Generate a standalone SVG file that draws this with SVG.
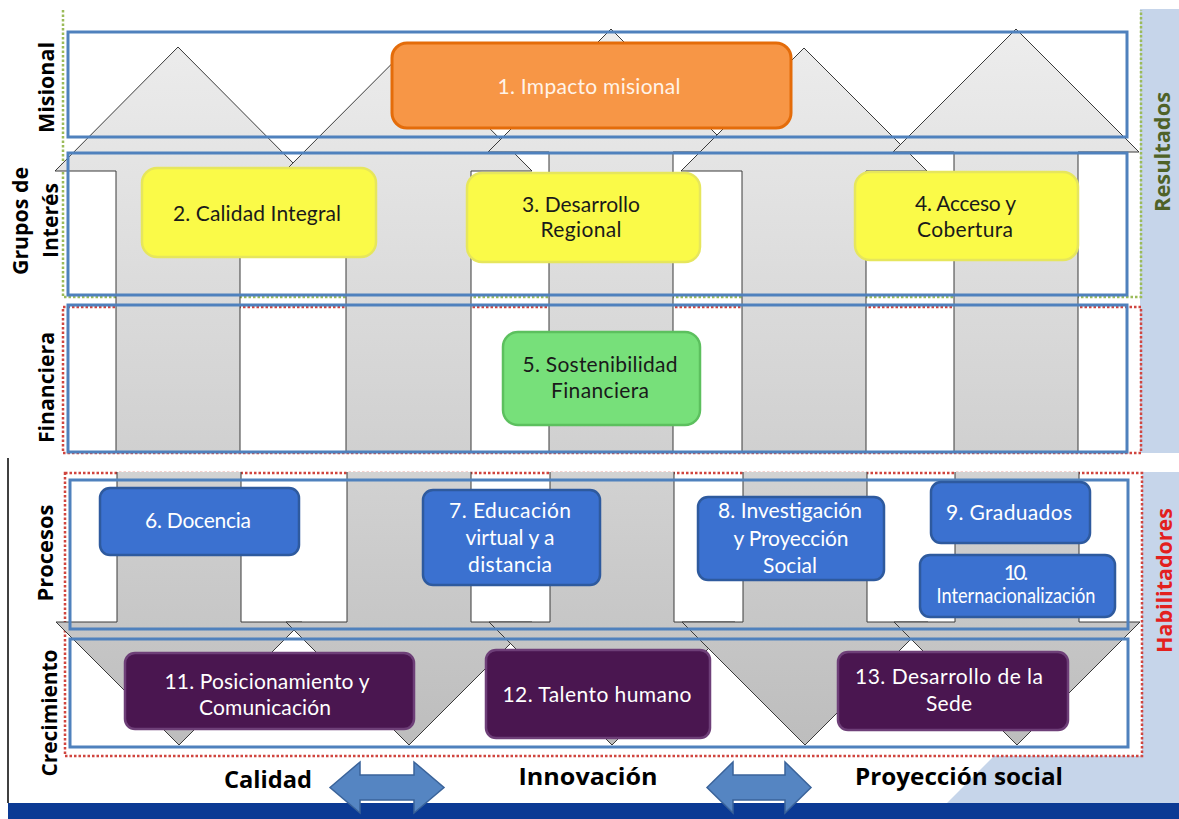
<svg xmlns="http://www.w3.org/2000/svg" width="1179" height="819" viewBox="0 0 1179 819">
<style>
.lbl{font-family:"Open Sans","DejaVu Sans",sans-serif;font-weight:700;font-size:22px;text-anchor:middle;fill:#000}
.thm{font-size:23.5px}
.bx{font-family:Lato,"Open Sans",sans-serif;font-size:21px;text-anchor:middle}
.dk{fill:#1a1a1a}
.wt{fill:#ffffff}
.sec{fill:none;stroke:#4F81BD;stroke-width:3}
.arr{stroke:#3a3a3a;stroke-width:1}
.up{fill:url(#gUp)}
.dn{fill:url(#gDn)}
.blue{fill:#3B71D0;stroke:#2E5A9E;stroke-width:2.5}
.purp{fill:#4A1650;stroke:#6E3F78;stroke-width:2.5}
.yel{fill:#FAFA48;stroke:#E6E65C;stroke-width:2.5}
.dbl{fill:#5585C2;stroke:#3A639A;stroke-width:1.5}
</style>
<defs>
<linearGradient id="gUp" gradientUnits="userSpaceOnUse" x1="0" y1="29" x2="0" y2="453">
<stop offset="0" stop-color="#EDEDED"/><stop offset="1" stop-color="#D0D0D0"/>
</linearGradient>
<linearGradient id="gDn" gradientUnits="userSpaceOnUse" x1="0" y1="472" x2="0" y2="745">
<stop offset="0" stop-color="#D2D2D2"/><stop offset="1" stop-color="#BDBDBD"/>
</linearGradient>
</defs>
<rect width="1179" height="819" fill="#ffffff"/>
<g id="band">
<rect x="1140" y="9" width="39" height="444" fill="#C6D5EA"/>
<polygon points="1142,472 1179,472 1179,803 947,803 994,756 1142,756" fill="#C6D5EA"/>
</g>
<g id="dotted" fill="none" stroke-width="2.5" stroke-dasharray="2.5 2">
<path d="M63,10 V297 H1141 V10" stroke="#9BBB59"/>
<rect x="63" y="307" width="1078" height="146" stroke="#D0453F"/>
<rect x="65" y="473" width="1077" height="283" stroke="#D0453F"/>
</g>
<g id="connectors">
<path class="arr up" d="M116,453 V171 H55 L178,47 L301,171 H240 V453"/>
<path class="arr up" d="M346,453 V171 H285 L408.5,47 L532,171 H471 V453"/>
<path class="arr up" d="M549,453 V152 H488 L611,29 L734,152 H673 V453"/>
<path class="arr up" d="M742,453 V171 H681 L804,48 L927,171 H866 V453"/>
<path class="arr up" d="M954,453 V152 H893 L1016,29 L1139,152 H1078 V453"/>
<path class="arr dn" d="M117,472 V622 H56 L179,745 L302,622 H241 V472"/>
<path class="arr dn" d="M347,472 V622 H286 L409,745 L532,622 H471 V472"/>
<path class="arr dn" d="M550,472 V622 H489 L612,745 L735,622 H674 V472"/>
<path class="arr dn" d="M743,472 V622 H682 L805,745 L928,622 H867 V472"/>
<path class="arr dn" d="M955,472 V622 H894 L1017,745 L1140,622 H1079 V472"/>
</g>
<g id="sections">
<rect class="sec" x="68" y="32" width="1059" height="105"/>
<rect class="sec" x="68" y="153" width="1059" height="142"/>
<rect class="sec" x="68" y="305" width="1059" height="147"/>
<rect class="sec" x="70" y="480" width="1058" height="149"/>
<rect class="sec" x="70" y="639" width="1058" height="108"/>
</g>
<line x1="8" y1="458" x2="8" y2="803" stroke="#000" stroke-width="1.5"/>
<g id="n1">
<rect x="392" y="43" width="399" height="85" rx="15" fill="#F79646" stroke="#E46C0A" stroke-width="3"/>
<text class="bx" x="589" y="94" fill="#FFF3E8" font-size="22" textLength="183">1. Impacto misional</text>
</g>
<g id="n2">
<rect class="yel" x="142" y="168" width="234" height="89" rx="15"/>
<text class="bx dk" x="257" y="221" textLength="168">2. Calidad Integral</text>
</g>
<g id="n3">
<rect class="yel" x="467" y="173" width="233" height="89" rx="15"/>
<text class="bx dk" x="581" y="212" textLength="118">3. Desarrollo</text>
<text class="bx dk" x="581" y="237" textLength="81">Regional</text>
</g>
<g id="n4">
<rect class="yel" x="855" y="172" width="223" height="88" rx="15"/>
<text class="bx dk" x="965.5" y="211" textLength="101">4. Acceso y</text>
<text class="bx dk" x="965" y="237" textLength="96">Cobertura</text>
</g>
<g id="n5">
<rect x="503" y="332" width="197" height="93" rx="15" fill="#77E07A" stroke="#5CC05E" stroke-width="2.5"/>
<text class="bx dk" x="600" y="372" textLength="155">5. Sostenibilidad</text>
<text class="bx dk" x="600" y="398" textLength="98">Financiera</text>
</g>
<g id="n6">
<rect class="blue" x="100" y="488" width="199" height="67" rx="10"/>
<text class="bx wt" x="198" y="528" textLength="106">6. Docencia</text>
</g>
<g id="n7">
<rect class="blue" x="423" y="490" width="177" height="95" rx="10"/>
<text class="bx wt" x="510" y="518" textLength="122">7. Educación</text>
<text class="bx wt" x="510" y="545" textLength="89">virtual y a</text>
<text class="bx wt" x="510" y="572" textLength="84">distancia</text>
</g>
<g id="n8">
<rect class="blue" x="698" y="497" width="186" height="83" rx="10"/>
<text class="bx wt" x="790" y="518" textLength="144">8. Investigación</text>
<text class="bx wt" x="791" y="546" textLength="115">y Proyección</text>
<text class="bx wt" x="790" y="573" textLength="54">Social</text>
</g>
<g id="n9">
<rect class="blue" x="931" y="482" width="159" height="61" rx="10"/>
<text class="bx wt" x="1009" y="520" textLength="126">9. Graduados</text>
</g>
<g id="n10">
<rect class="blue" x="920" y="555" width="195" height="62" rx="10"/>
<text class="bx wt" x="1016" y="580" font-size="17" textLength="24.5">10.</text>
<text class="bx wt" x="1016" y="603" font-size="16.5" textLength="159" lengthAdjust="spacingAndGlyphs">Internacionalización</text>
</g>
<g id="n11">
<rect class="purp" x="125" y="653" width="289" height="76" rx="10"/>
<text class="bx wt" x="267" y="689" textLength="205">11. Posicionamiento y</text>
<text class="bx wt" x="265" y="715" textLength="132">Comunicación</text>
</g>
<g id="n12">
<rect class="purp" x="486" y="650" width="224" height="88" rx="10"/>
<text class="bx wt" x="597" y="702" textLength="189">12. Talento humano</text>
</g>
<g id="n13">
<rect class="purp" x="838" y="652" width="230" height="78" rx="10"/>
<text class="bx wt" x="949" y="684" textLength="188">13. Desarrollo de la</text>
<text class="bx wt" x="949" y="711" textLength="46">Sede</text>
</g>
<g id="labels">
<text class="lbl" transform="translate(54,87.5) rotate(-90)" textLength="91" lengthAdjust="spacingAndGlyphs">Misional</text>
<text class="lbl" transform="translate(27.5,221) rotate(-90)" textLength="108" lengthAdjust="spacingAndGlyphs">Grupos de</text>
<text class="lbl" transform="translate(58,220.5) rotate(-90)" textLength="75" lengthAdjust="spacingAndGlyphs">Interés</text>
<text class="lbl" transform="translate(54,387.5) rotate(-90)" textLength="111" lengthAdjust="spacingAndGlyphs">Financiera</text>
<text class="lbl" transform="translate(53,553) rotate(-90)" textLength="97" lengthAdjust="spacingAndGlyphs">Procesos</text>
<text class="lbl" transform="translate(57,713) rotate(-90)" textLength="127" lengthAdjust="spacingAndGlyphs">Crecimiento</text>
<text class="lbl" transform="translate(1170,152) rotate(-90)" style="fill:#4F6228" textLength="120" lengthAdjust="spacingAndGlyphs">Resultados</text>
<text class="lbl" transform="translate(1172,580.5) rotate(-90)" style="fill:#E3201E" textLength="145" lengthAdjust="spacingAndGlyphs">Habilitadores</text>
</g>
<rect id="footer" x="8" y="803" width="1171" height="16" fill="#0B3A94"/>
<g id="dblarrows">
<polygon class="dbl" points="330,787.5 360,762 360,775 414,775 414,762 444,787.5 414,813 414,800 360,800 360,813"/>
<polygon class="dbl" points="707,787.5 733,762 733,775 785,775 785,762 811,787.5 785,813 785,800 733,800 733,813"/>
</g>
<g id="themes">
<text class="lbl thm" x="268" y="788" textLength="88" lengthAdjust="spacingAndGlyphs">Calidad</text>
<text class="lbl thm" x="588" y="785" textLength="139" lengthAdjust="spacingAndGlyphs">Innovación</text>
<text class="lbl thm" x="959" y="785" textLength="208" lengthAdjust="spacingAndGlyphs">Proyección social</text>
</g>
</svg>
